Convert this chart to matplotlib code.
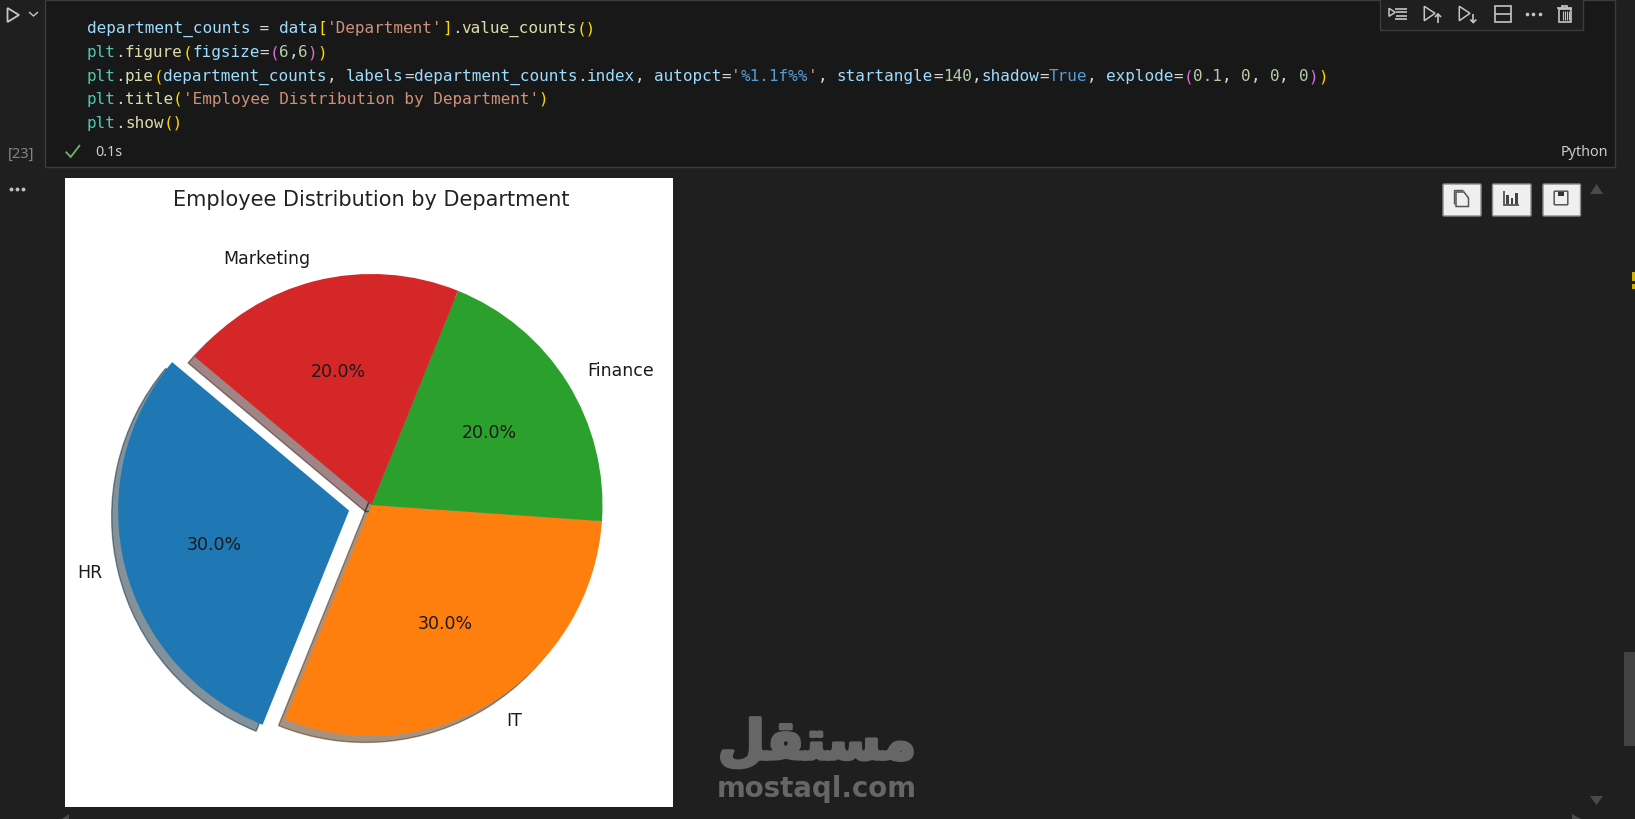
import matplotlib
matplotlib.use("Agg")
import matplotlib.pyplot as plt
import matplotlib.patheffects as pe
from matplotlib.patches import Rectangle, Polygon, FancyBboxPatch

# ---- chart data ----
departments = ["HR", "IT", "Finance", "Marketing"]
counts = [30, 30, 20, 20]
explode_values = (0.1, 0, 0, 0)
start_angle = 140
chart_title = "Employee Distribution by Department"

# ---- notebook code text, as (text, colour) tokens ----
VAR, OP, STR, MOD, FN, GOLD, PINK, NUM, KW = ("#9CDCFE", "#D4D4D4", "#CE9178", "#4EC9B0",
                                              "#DCDCAA", "#FFD700", "#DA70D6", "#B5CEA8", "#569CD6")
code_lines = [
    [("department_counts", VAR), (" = ", OP), ("data", VAR), ("[", GOLD), ("'Department'", STR),
     ("]", GOLD), (".", OP), ("value_counts", FN), ("()", GOLD)],
    [("plt", MOD), (".", OP), ("figure", FN), ("(", GOLD), ("figsize", VAR), ("=", OP), ("(", PINK),
     ("6", NUM), (",", OP), ("6", NUM), (")", PINK), (")", GOLD)],
    [("plt", MOD), (".", OP), ("pie", FN), ("(", GOLD), ("department_counts", VAR), (", ", OP),
     ("labels", VAR), ("=", OP), ("department_counts", VAR), (".", OP), ("index", VAR), (", ", OP),
     ("autopct", VAR), ("=", OP), ("'", STR), ("%1.1f%%", KW), ("'", STR), (", ", OP),
     ("startangle", VAR), ("=", OP), ("140", NUM), (",", OP), ("shadow", VAR), ("=", OP), ("True", KW),
     (", ", OP), ("explode", VAR), ("=", OP), ("(", PINK), ("0.1", NUM), (", ", OP), ("0", NUM), (", ", OP),
     ("0", NUM), (", ", OP), ("0", NUM), (")", PINK), (")", GOLD)],
    [("plt", MOD), (".", OP), ("title", FN), ("(", GOLD), ("'Employee Distribution by Department'", STR),
     (")", GOLD)],
    [("plt", MOD), (".", OP), ("show", FN), ("()", GOLD)],
]
code_baselines = [33, 57, 81, 104, 128]

W, H = 1635, 820
BG, CELL, EDGE, ICON = "#1F1F1F", "#181818", "#3C3C3C", "#C5C5C5"

fig = plt.figure(figsize=(W / 100, H / 100), dpi=100, facecolor=BG)

# ---- window chrome, in screen pixels ----
ui = fig.add_axes([0, 0, 1, 1], zorder=0)
ui.set_xlim(0, W)
ui.set_ylim(H, 0)
ui.axis("off")


def rect(x0, y0, x1, y1, fc="none", ec="none", lw=1.0, z=1):
    ui.add_patch(Rectangle((x0, y0), x1 - x0, y1 - y0, fc=fc, ec=ec, lw=lw, zorder=z))


def tri(pts, fc="none", ec="none", lw=1.0, z=3):
    ui.add_patch(Polygon(pts, closed=True, fc=fc, ec=ec, lw=lw, zorder=z, joinstyle="miter"))


def line(xs, ys, c=ICON, lw=1.2, z=3):
    ui.plot(xs, ys, color=c, lw=lw, zorder=z, solid_capstyle="butt", solid_joinstyle="miter")


# code cell
rect(44.5, 1, 1615, 167.5, fc=CELL, ec=EDGE, lw=1.0)

# code
CW = 9.62
for base, tokens in zip(code_baselines, code_lines):
    col = 0
    for text, colour in tokens:
        ui.text(86.5 + col * CW, base, text, color=colour, family="DejaVu Sans Mono",
                fontsize=11.5, va="baseline", ha="left", zorder=4)
        col += len(text)

# gutter
tri([(7.5, 9), (7.5, 23), (19, 16)], ec=ICON, lw=1.3)
line([29, 33.5, 38], [13, 17, 13], lw=1.0)
ui.text(21.5, 154, "[23]", color="#858585", family="Noto Sans", fontsize=10.5, ha="center", va="center")
line([65.7, 70.7, 80], [152.7, 158, 146], c="#73AF6F", lw=1.3)
ui.text(95.5, 153, "0.1s", color="#CCCCCC", family="Noto Sans", fontsize=10.3, ha="left", va="center")
ui.text(1608.5, 153, "Python", color="#CCCCCC", family="Noto Sans", fontsize=10.3, ha="right", va="center")
ui.plot([10.7, 17.3, 23.3], [190, 190, 190], ls="none", marker="o", ms=1.8, color="#C0C0C0")

# cell toolbar
rect(1379.5, -2, 1583, 31, fc="#1F1F1F", ec=EDGE, lw=1.0, z=2)
X = 1370
tri([(X + 19, 9.3), (X + 19, 17.3), (X + 25.3, 13.3)], ec=ICON, lw=1.1)
for yy, x0 in ((10, 25), (13.3, 26), (16.7, 26), (20, 25)):
    line([X + x0, X + 36.7], [yy, yy])
tri([(X + 54.3, 7.3), (X + 54.3, 21.7), (X + 65, 14.3)], ec=ICON, lw=1.1)
line([X + 68, X + 68], [24, 15])
line([X + 65, X + 68, X + 71], [18, 15, 18])
tri([(X + 89.3, 7.3), (X + 89.3, 21.7), (X + 100, 14.3)], ec=ICON, lw=1.1)
line([X + 103.3, X + 103.3], [15, 23.5])
line([X + 100.3, X + 103.3, X + 106.3], [20.5, 23.5, 20.5])
rect(X + 125.3, 6.7, X + 141.3, 22.7, ec=ICON, lw=1.2, z=3)
line([X + 125.3, X + 141.3], [14.7, 14.7])
ui.plot([X + 157.3, X + 163.3, X + 170], [14.7] * 3, ls="none", marker="o", ms=1.6, color=ICON, zorder=3)
rect(X + 188.7, 10, X + 200.7, 22.7, ec=ICON, lw=1.2, z=3)
line([X + 186.7, X + 202], [8.7, 8.7])
line([X + 191.7, X + 191.7, X + 197.3, X + 197.3], [8.7, 6.7, 6.7, 8.7])
for xx in (192.7, 194.7, 196.7, 198.7):
    line([X + xx, X + xx], [12, 21], lw=0.8)

# output buttons
for x0, x1 in ((1443, 1481), (1492.5, 1531), (1543, 1580.5)):
    ui.add_patch(FancyBboxPatch((x0 + 1, 186), x1 - x0 - 2, 30, boxstyle="round,pad=1",
                                fc="#EFEFEF", ec="#8A8A8A", lw=1.0, zorder=2))
D = "#555555"
BX, BY = 1400, 170
tri([(BX + 56, BY + 23), (BX + 64, BY + 23), (BX + 68.5, BY + 29), (BX + 68.5, BY + 37.5), (BX + 56, BY + 37.5)],
    ec=D, lw=1.1)
line([BX + 53.5, BX + 53.5, BX + 63], [BY + 35, BY + 21, BY + 21], c=D, lw=1.0)
line([BX + 104, BX + 104, BX + 118.5], [BY + 21.5, BY + 36, BY + 36], c=D, lw=1.3)
for x0, x1, top in ((106, 108.5, 26), (110.5, 113, 29), (115, 117.5, 23.5)):
    rect(BX + x0, BY + top, BX + x1, BY + 34.5, fc="#444444", z=3)
ui.add_patch(FancyBboxPatch((BX + 155, BY + 23), 12, 12, boxstyle="round,pad=0.8", fc="none", ec=D, lw=1.1,
                            zorder=3))
rect(BX + 157.5, BY + 22.5, BX + 164, BY + 26.5, fc="#333333", z=3)

# scroll furniture
tri([(1590, 195), (1603, 195), (1596.5, 185)], fc="#4A4A4A")
tri([(1590, 797), (1603, 797), (1596.5, 806)], fc="#4A4A4A")
tri([(62, 820), (69, 815), (69, 820)], fc="#4A4A4A")
tri([(1572, 815), (1572, 820), (1581, 820)], fc="#4A4A4A")
rect(1624, 653, W, 747, fc="#424242")
rect(1632, 273, W, 282, fc="#C8B400")
rect(1632, 285, W, 290, fc="#C8B400")

# watermark
ui.text(817, 745, "\ufede\ufed8\ufe98\ufeb4\ufee3", color="#666666", family="DejaVu Sans", weight="bold",
        fontsize=39, ha="center", va="center", zorder=3,
        path_effects=[pe.withStroke(linewidth=2.5, foreground="#666666")])
ui.text(816.5, 797, "mostaql.com", color="#666666", family="DejaVu Sans", weight="bold",
        fontsize=19.9, ha="center", va="baseline", zorder=3)

# white output image
rect(65, 179, 673, 807.5, fc="white", z=5)

# ---- the pie ----
ax = fig.add_axes([82.75 / W, 1 - 794.75 / H, 577.5 / W, 577.5 / H], zorder=2)
ax.patch.set_alpha(0)
wedges, texts, autotexts = ax.pie(counts, labels=departments, autopct="%1.1f%%", startangle=start_angle,
                                  shadow=True, explode=explode_values,
                                  textprops={"fontsize": 12.55, "color": "#1A1A1A"})
ax.set_title(chart_title, fontsize=15.06, pad=8.4, color="#222222")

fig.savefig("out.png", dpi=100, facecolor=BG)
